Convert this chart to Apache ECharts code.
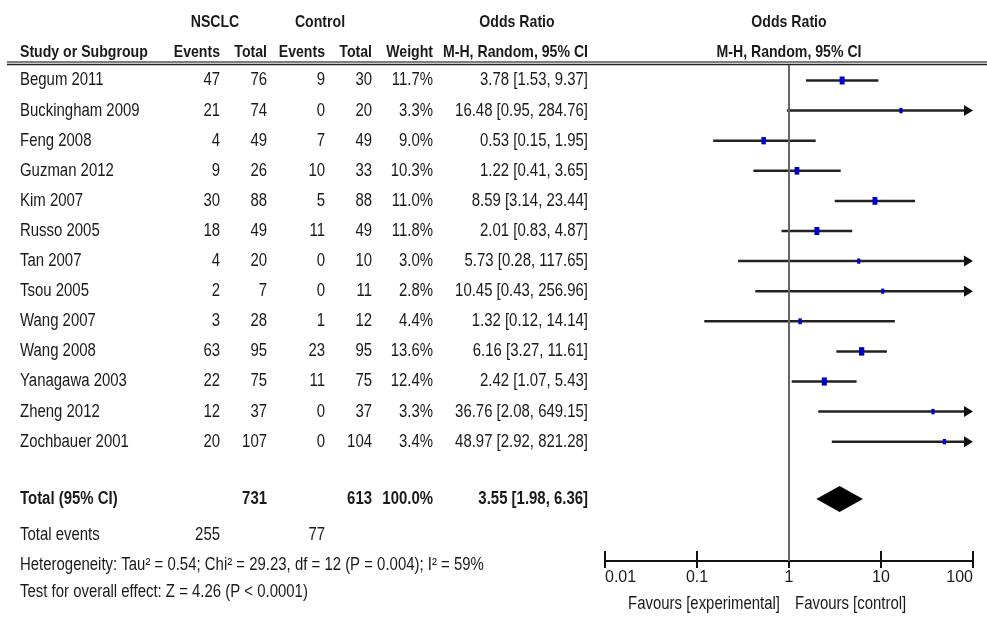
<!DOCTYPE html>
<html>
<head>
<meta charset="utf-8">
<script src="https://cdn.jsdelivr.net/npm/echarts@6/dist/echarts.min.js"></script>
<style>
  html, body { margin: 0; padding: 0; background: #fff; }
  #main { width: 987px; height: 619px; }
</style>
</head>
<body>
<div id="main"></div>
<script>
// study data
const studies = ['Begum 2011', 'Buckingham 2009', 'Feng 2008', 'Guzman 2012', 'Kim 2007', 'Russo 2005',
    'Tan 2007', 'Tsou 2005', 'Wang 2007', 'Wang 2008', 'Yanagawa 2003', 'Zheng 2012', 'Zochbauer 2001'];
const nsclcEvents = [47, 21, 4, 9, 30, 18, 4, 2, 3, 63, 22, 12, 20];
const nsclcTotal = [76, 74, 49, 26, 88, 49, 20, 7, 28, 95, 75, 37, 107];
const controlEvents = [9, 0, 7, 10, 5, 11, 0, 0, 1, 23, 11, 0, 0];
const controlTotal = [30, 20, 49, 33, 88, 49, 10, 11, 12, 95, 75, 37, 104];
const weights = [11.7, 3.3, 9.0, 10.3, 11.0, 11.8, 3.0, 2.8, 4.4, 13.6, 12.4, 3.3, 3.4];
const oddsRatio = [3.78, 16.48, 0.53, 1.22, 8.59, 2.01, 5.73, 10.45, 1.32, 6.16, 2.42, 36.76, 48.97];
const ciLow = [1.53, 0.95, 0.15, 0.41, 3.14, 0.83, 0.28, 0.43, 0.12, 3.27, 1.07, 2.08, 2.92];
const ciHigh = [9.37, 284.76, 1.95, 3.65, 23.44, 4.87, 117.65, 256.96, 14.14, 11.61, 5.43, 649.15, 821.28];

// pooled result
const totalOR = [3.55];
const totalLow = [1.98];
const totalHigh = [6.36];
const totalCounts = [731, 613];   // NSCLC total, control total
const totalEvents = [255, 77];
const totalWeight = ['100.0%'];

const xTicks = [0.01, 0.1, 1, 10, 100];
const heterogeneity = 'Heterogeneity: Tau\u00b2 = 0.54; Chi\u00b2 = 29.23, df = 12 (P = 0.004); I\u00b2 = 59%';
const overallTest = 'Test for overall effect: Z = 4.26 (P < 0.0001)';

// layout
const FONT = "'Liberation Sans', Arial, sans-serif";
const SX = 0.83;          // narrow look
const TEXT = '#1a1a1a';
const TOTAL_ROW = 13.9;
const X_MAX = 100;
const GRID = {left: 605, right: 14, top: 65, bottom: 58};

const chart = echarts.init(document.getElementById('main'), null, {renderer: 'canvas'});

function fmt(v) {
    return v.toFixed(2);
}

// 一行 CI + 方块
function renderStudy(params, api) {
    const row = api.value(0);
    const w = api.value(4);
    const hi = api.value(3);
    const pLo = api.coord([api.value(2), row]);
    const pHi = api.coord([Math.min(hi, X_MAX), row]);
    const pc = api.coord([api.value(1), row]);
    const clipped = hi > X_MAX;
    const children = [];
    children.push({
        type: 'line',
        shape: {x1: pLo[0], y1: pLo[1], x2: clipped ? pHi[0] - 6 : pHi[0], y2: pHi[1]},
        style: {stroke: '#222', lineWidth: 2.5}
    });
    if (clipped) {
        children.push({
            type: 'polygon',
            shape: {points: [[pHi[0], pHi[1]], [pHi[0] - 9, pHi[1] - 5.5], [pHi[0] - 9, pHi[1] + 5.5]]},
            style: {fill: '#111'}
        });
    }
    const sw = 1.2 + 1.1 * Math.sqrt(w), sh = 2.5 + 1.6 * Math.sqrt(w);
    children.push({
        type: 'rect',
        shape: {x: pc[0] - sw / 2, y: pc[1] - sh / 2, width: sw, height: sh},
        style: {fill: '#0000cc'}
    });
    return {type: 'group', children: children};
}

// 合并菱形
function renderDiamond(params, api) {
    const row = api.value(0);
    const pLo = api.coord([api.value(2), row]);
    const pHi = api.coord([api.value(3), row]);
    const pc = api.coord([api.value(1), row]);
    return {
        type: 'polygon',
        shape: {points: [[pLo[0], pLo[1]], [pc[0], pc[1] - 13], [pHi[0], pHi[1]], [pc[0], pc[1] + 13]]},
        style: {fill: '#000'}
    };
}

const studyData = studies.map((s, i) => [i, oddsRatio[i], ciLow[i], ciHigh[i], weights[i]]);
const totalData = [[TOTAL_ROW, totalOR[0], totalLow[0], totalHigh[0]]];

chart.setOption({
    animation: false,
    grid: [Object.assign({}, GRID), Object.assign({}, GRID)],
    xAxis: [
        {
            type: 'log', logBase: 10, min: xTicks[0], max: xTicks[xTicks.length - 1], position: 'bottom', gridIndex: 0,
            axisLine: {show: true, onZero: false, lineStyle: {color: '#111', width: 2}},
            axisTick: {show: true, inside: false, length: 7, lineStyle: {color: '#111', width: 2}},
            axisLabel: {
                show: true, margin: 9, fontSize: 16, fontFamily: FONT, color: TEXT,
                alignMinLabel: 'left', alignMaxLabel: 'right',
                formatter: v => String(+(+v).toPrecision(3))
            },
            splitLine: {show: false}, minorTick: {show: false}
        },
        {
            // 朝上的刻度
            type: 'log', logBase: 10, min: xTicks[0], max: xTicks[xTicks.length - 1], position: 'bottom', gridIndex: 1,
            axisLine: {show: false, onZero: false},
            axisTick: {show: true, inside: true, length: 10, lineStyle: {color: '#111', width: 2}},
            axisLabel: {show: false},
            splitLine: {show: false}
        }
    ],
    yAxis: [
        {type: 'value', inverse: true, min: -0.515, max: 15.963, show: false, gridIndex: 0},
        {type: 'value', min: 0, max: 1, show: false, gridIndex: 1}
    ],
    series: [
        {
            type: 'custom',
            xAxisIndex: 0,
            yAxisIndex: 0,
            renderItem: renderStudy,
            encode: {x: [1, 2, 3], y: 0},
            data: studyData,
            z: 3,
            markLine: {
                silent: true, symbol: 'none', label: {show: false},
                lineStyle: {color: '#666', width: 2, type: 'solid'},
                data: [{xAxis: 1}]
            }
        },
        {
            type: 'custom',
            xAxisIndex: 0,
            yAxisIndex: 0,
            renderItem: renderDiamond,
            encode: {x: [1, 2, 3], y: 0},
            data: totalData,
            z: 3
        }
    ]
});

// 表格文字
function txt(text, x, y, align, size, bold) {
    return {
        type: 'text', x: x, y: y, scaleX: SX, silent: true,
        style: {
            text: text, fill: TEXT,
            font: (bold ? 'bold ' : '') + size + 'px ' + FONT,
            textAlign: align, align: align,
            textVerticalAlign: 'middle', verticalAlign: 'middle'
        }
    };
}

const cols = {study: 20, ev1: 220, tot1: 267, ev2: 325, tot2: 372, weight: 433, ci: 588};
const xOne = chart.convertToPixel({xAxisIndex: 0}, 1);
const rowY = r => chart.convertToPixel({yAxisIndex: 0}, r);

const g = [];
// headers
g.push(txt('NSCLC', 215, 22, 'center', 17, true));
g.push(txt('Control', 320, 22, 'center', 17, true));
g.push(txt('Odds Ratio', 517, 22, 'center', 17, true));
g.push(txt('Odds Ratio', xOne, 22, 'center', 17, true));
g.push(txt('Study or Subgroup', cols.study, 52, 'left', 17, true));
g.push(txt('Events', cols.ev1, 52, 'right', 17, true));
g.push(txt('Total', cols.tot1, 52, 'right', 17, true));
g.push(txt('Events', cols.ev2, 52, 'right', 17, true));
g.push(txt('Total', cols.tot2, 52, 'right', 17, true));
g.push(txt('Weight', cols.weight, 52, 'right', 17, true));
g.push(txt('M-H, Random, 95% CI', cols.ci, 52, 'right', 17, true));
g.push(txt('M-H, Random, 95% CI', xOne, 52, 'center', 17, true));
// header rule
g.push({type: 'line', silent: true, shape: {x1: 7, y1: 62, x2: 987, y2: 62}, style: {stroke: '#555', lineWidth: 1.5}});
g.push({type: 'line', silent: true, shape: {x1: 7, y1: 64.5, x2: 987, y2: 64.5}, style: {stroke: '#222', lineWidth: 1.5}});

studies.forEach((s, i) => {
    const y = rowY(i);
    g.push(txt(s, cols.study, y, 'left', 18));
    g.push(txt(String(nsclcEvents[i]), cols.ev1, y, 'right', 18));
    g.push(txt(String(nsclcTotal[i]), cols.tot1, y, 'right', 18));
    g.push(txt(String(controlEvents[i]), cols.ev2, y, 'right', 18));
    g.push(txt(String(controlTotal[i]), cols.tot2, y, 'right', 18));
    g.push(txt(weights[i].toFixed(1) + '%', cols.weight, y, 'right', 18));
    g.push(txt(fmt(oddsRatio[i]) + ' [' + fmt(ciLow[i]) + ', ' + fmt(ciHigh[i]) + ']', cols.ci, y, 'right', 18));
});

const yT = rowY(TOTAL_ROW);
g.push(txt('Total (95% CI)', cols.study, yT, 'left', 18, true));
g.push(txt(String(totalCounts[0]), cols.tot1, yT, 'right', 18, true));
g.push(txt(String(totalCounts[1]), cols.tot2, yT, 'right', 18, true));
g.push(txt(totalWeight[0], cols.weight, yT, 'right', 18, true));
g.push(txt(fmt(totalOR[0]) + ' [' + fmt(totalLow[0]) + ', ' + fmt(totalHigh[0]) + ']', cols.ci, yT, 'right', 18, true));

g.push(txt('Total events', cols.study, 535, 'left', 18));
g.push(txt(String(totalEvents[0]), cols.ev1, 535, 'right', 18));
g.push(txt(String(totalEvents[1]), cols.ev2, 535, 'right', 18));
g.push(txt(heterogeneity, cols.study, 565, 'left', 18));
g.push(txt(overallTest, cols.study, 592, 'left', 18));

g.push(txt('Favours [experimental]', 780, 604, 'right', 18));
g.push(txt('Favours [control]', 795, 604, 'left', 18));

chart.setOption({graphic: {elements: g}});
</script>
</body>
</html>
